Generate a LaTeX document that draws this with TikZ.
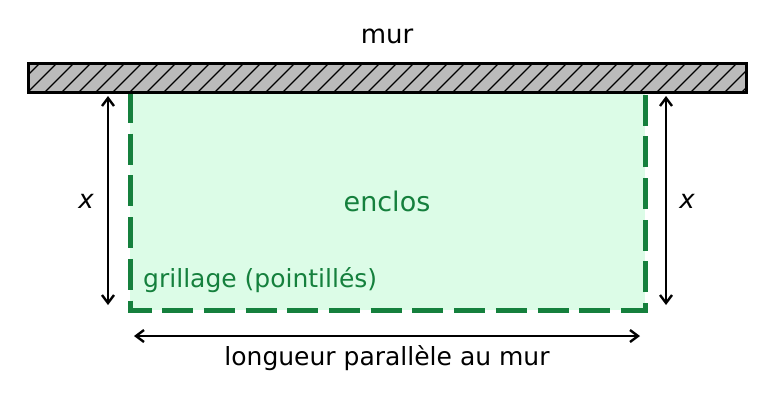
\documentclass[tikz,border=0pt]{standalone}
\usepackage{fontspec}
\setmainfont{DejaVu Sans}
\usetikzlibrary{arrows.meta}
\definecolor{fence}{HTML}{15803D}
\definecolor{fencefill}{HTML}{DCFCE7}
\definecolor{wallgray}{HTML}{BBBBBB}
\tikzset{
  dim/.style={draw=black, line width=2pt, {Straight Barb[length=8pt,width=12pt,line width=2.4pt]}-{Straight Barb[length=8pt,width=12pt,line width=2.4pt]}},
  lbl/.style={inner sep=0pt, font=\fontsize{25}{29}\selectfont},
  greenlbl/.style={lbl, text=fence},
  fenceline/.style={draw=fence, line width=5pt, dash pattern=on 31pt off 10.7pt},
}
\begin{document}
\begin{tikzpicture}[x=1pt,y=-1pt]
\useasboundingbox (0,0) rectangle (774,402);
% enclosure
\fill[fencefill] (130,92) rectangle (645,310);
\coordinate (ftl) at (130,92);
\coordinate (fbl) at (130,310);
\coordinate (fbr) at (645,310);
\coordinate (ftr) at (645,92);
\draw[fenceline] (ftl) -- (fbl) -- (fbr) -- (ftr);
% wall
\fill[wallgray] (28,63) rectangle (746,92);
\begin{scope}
\clip (28,63) rectangle (746,92);
\foreach \i in {-40,-23,...,760} {
  \draw[black, line width=1.3pt] (\i,92) -- ++(29,-29);
}
\end{scope}
\draw[black, line width=3pt] (28,63) rectangle (746,92);
\node[lbl, font=\fontsize{26}{30}\selectfont] (mur) at (387,36) {mur};
% labels
\node[greenlbl, font=\fontsize{27}{31}\selectfont] (enclos) at (387,201) {enclos};
\node[greenlbl, anchor=west] (grillage) at (143,280) {grillage (pointillés)};
% dimension arrows
\coordinate (la) at (108,96);
\coordinate (lb) at (108,305);
\draw[dim] (la) -- (lb);
\node[lbl, font=\fontsize{26}{30}\selectfont] (xl) at (86,201) {\itshape x};
\coordinate (ra) at (666,96);
\coordinate (rb) at (666,305);
\draw[dim] (ra) -- (rb);
\node[lbl, font=\fontsize{26}{30}\selectfont] (xr) at (687,201) {\itshape x};
\coordinate (ba) at (134,336);
\coordinate (bb) at (640,336);
\draw[dim] (ba) -- (bb);
\node[lbl] (longueur) at (387,358) {longueur parallèle au mur};
\end{tikzpicture}
\end{document}
